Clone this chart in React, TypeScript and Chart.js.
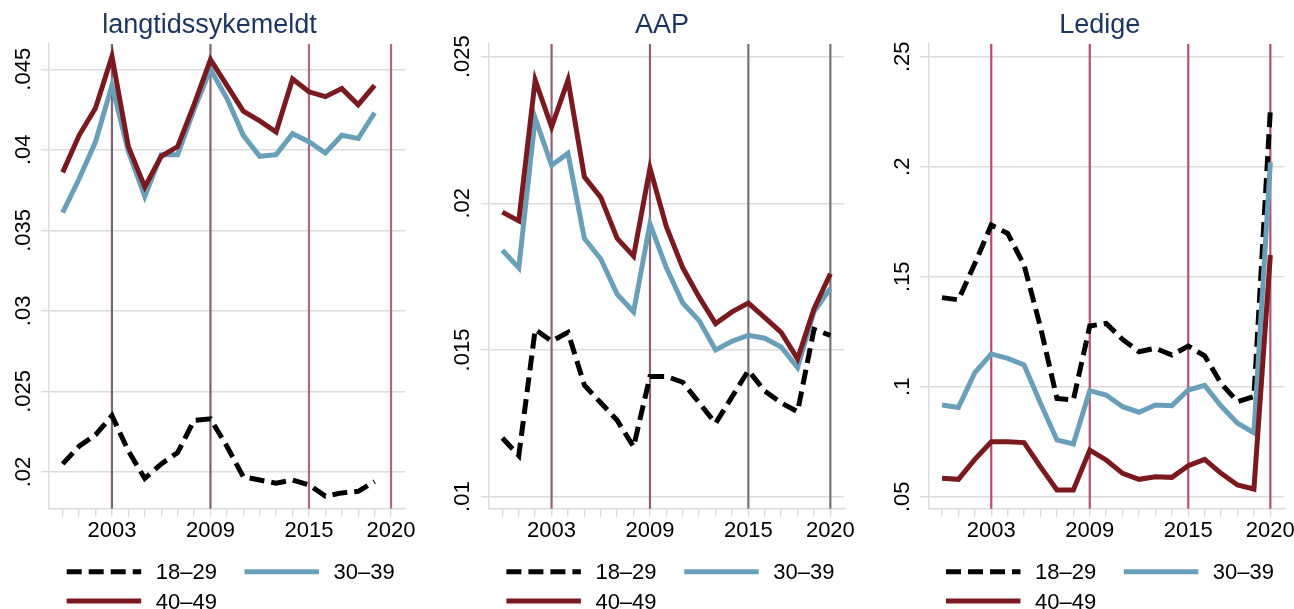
import React, { useEffect, useRef } from 'react';
import { Chart, registerables } from 'chart.js';

Chart.register(...registerables);
Chart.defaults.font.family = "'Liberation Sans', Arial, sans-serif";

// ---------- data ----------
const yearsSick = [2000, 2001, 2002, 2003, 2004, 2005, 2006, 2007, 2008, 2009, 2010, 2011, 2012, 2013, 2014, 2015, 2016, 2017, 2018, 2019];
const yearsAll = [2000, 2001, 2002, 2003, 2004, 2005, 2006, 2007, 2008, 2009, 2010, 2011, 2012, 2013, 2014, 2015, 2016, 2017, 2018, 2019, 2020];
const tickYears = [2000, 2001, 2002, 2003, 2004, 2005, 2006, 2007, 2008, 2009, 2010, 2011, 2012, 2013, 2014, 2015, 2016, 2017, 2018, 2019, 2020];
const labelYears = [2003, 2009, 2015, 2020];
const refYears = [2003, 2009, 2015, 2020];

const seriesNames = ['18–29', '30–39', '40–49'];

const sick18 = [0.0205, 0.0216, 0.0223, 0.0235, 0.0213, 0.0196, 0.0205, 0.0212, 0.0232, 0.0233, 0.0216, 0.0197, 0.0195, 0.0193, 0.0195, 0.0192, 0.0185, 0.0187, 0.0188, 0.0194];
const sick30 = [0.0361, 0.0382, 0.0405, 0.0440, 0.0399, 0.0371, 0.0397, 0.0397, 0.0425, 0.0450, 0.0432, 0.0409, 0.0396, 0.0397, 0.0410, 0.0405, 0.0398, 0.0409, 0.0407, 0.0423];
const sick40 = [0.0386, 0.0409, 0.0426, 0.0458, 0.0402, 0.0377, 0.0396, 0.0402, 0.0428, 0.0456, 0.0440, 0.0424, 0.0418, 0.0411, 0.0444, 0.0436, 0.0433, 0.0438, 0.0428, 0.0440];

const aap18 = [0.0120, 0.0114, 0.0157, 0.0153, 0.0156, 0.0138, 0.0132, 0.0126, 0.0117, 0.0141, 0.0141, 0.0139, 0.0132, 0.0125, 0.0134, 0.0143, 0.0136, 0.0132, 0.0129, 0.0157, 0.0155];
const aap30 = [0.0184, 0.0178, 0.0229, 0.0213, 0.0217, 0.0188, 0.0181, 0.0169, 0.0163, 0.0193, 0.0178, 0.0166, 0.0160, 0.0150, 0.0153, 0.0155, 0.0154, 0.0151, 0.0144, 0.0163, 0.0171];
const aap40 = [0.0197, 0.0194, 0.0242, 0.0226, 0.0242, 0.0209, 0.0202, 0.0188, 0.0182, 0.0212, 0.0192, 0.0178, 0.0168, 0.0159, 0.0163, 0.0166, 0.0161, 0.0156, 0.0147, 0.0164, 0.0176];

const led18 = [0.1405, 0.1395, 0.156, 0.1735, 0.1697, 0.1553, 0.127, 0.0947, 0.094, 0.1276, 0.1288, 0.1215, 0.1159, 0.1175, 0.1144, 0.1185, 0.114, 0.1015, 0.0932, 0.0955, 0.2258];
const led30 = [0.0917, 0.0906, 0.1064, 0.1149, 0.1129, 0.1099, 0.0925, 0.0758, 0.074, 0.0982, 0.0962, 0.0909, 0.0884, 0.0917, 0.0914, 0.0985, 0.1006, 0.0912, 0.0834, 0.0791, 0.202];
const led40 = [0.0584, 0.0579, 0.067, 0.075, 0.075, 0.0746, 0.0636, 0.0531, 0.0531, 0.0712, 0.0667, 0.0606, 0.0579, 0.0591, 0.0588, 0.0641, 0.067, 0.0606, 0.0553, 0.0535, 0.1599];

const sickTicks = [0.02, 0.025, 0.03, 0.035, 0.04, 0.045];
const aapTicks = [0.01, 0.015, 0.02, 0.025];
const ledTicks = [0.05, 0.1, 0.15, 0.2, 0.25];

// ---------- style ----------
const COL18 = '#000000';
const COL30 = '#6a9fba';
const COL40 = '#7a1a1f';
const TITLE_COL = '#1c355e';
const GRID_COL = '#dcdcdc';
const FONT = "'Liberation Sans', Arial, sans-serif";
const TICK_PX = 22;
const H = 609;
const PLOT_TOP = 44;
const PLOT_BOTTOM = 508.7;
const X_MIN = 1999.165;
const X_MAX = 2020.85;
const LW = 5;

type PanelCfg = {
  title: string;
  left: number;
  width: number;
  plotLeft: number;
  plotRight: number;
  titleX: number;
  years: number[];
  s18: number[];
  s30: number[];
  s40: number[];
  yMin: number;
  yMax: number;
  yTicks: number[];
  refColors: string[];
};

const panels: PanelCfg[] = [
  {
    title: 'langtidssykemeldt', left: 0, width: 430, plotLeft: 49, plotRight: 405, titleX: 209.5,
    years: yearsSick, s18: sick18, s30: sick30, s40: sick40,
    yMin: 0.01772, yMax: 0.04657, yTicks: sickTicks,
    refColors: ['#7e6470', '#7e6470', '#b06a7e', '#b06a7e'],
  },
  {
    title: 'AAP', left: 430, width: 430, plotLeft: 58.7, plotRight: 414.3, titleX: 232,
    years: yearsAll, s18: aap18, s30: aap30, s40: aap40,
    yMin: 0.00959, yMax: 0.02543, yTicks: aapTicks,
    refColors: ['#8e6272', '#8e6272', '#76737a', '#76737a'],
  },
  {
    title: 'Ledige', left: 860, width: 434, plotLeft: 68.3, plotRight: 424.3, titleX: 239.7,
    years: yearsAll, s18: led18, s30: led30, s40: led40,
    yMin: 0.04455, yMax: 0.2558, yTicks: ledTicks,
    refColors: ['#c2466a', '#b8506e', '#b8506e', '#b05070'],
  },
];

const fmtTick = (v: number) => String(v).replace(/^0/, '');

const decorPlugin = {
  id: 'panelDecor',
  beforeDatasetsDraw(chart: any, _args: any, opts: any) {
    const { ctx, chartArea } = chart;
    const xs = chart.scales.x;
    refYears.forEach((yr, i) => {
      const px = xs.getPixelForValue(yr);
      ctx.save();
      ctx.strokeStyle = opts.refColors[i];
      ctx.lineWidth = 2.2;
      ctx.beginPath();
      ctx.moveTo(px, chartArea.top);
      ctx.lineTo(px, chartArea.bottom);
      ctx.stroke();
      ctx.restore();
    });
  },
  afterDraw(chart: any, _args: any, opts: any) {
    const { ctx, chartArea } = chart;
    const ys = chart.scales.y;
    ctx.save();
    // title
    ctx.fillStyle = TITLE_COL;
    ctx.font = `27px ${FONT}`;
    ctx.textAlign = 'center';
    ctx.textBaseline = 'alphabetic';
    ctx.fillText(opts.title, opts.titleX, 33);
    // rotated y tick labels
    ctx.fillStyle = '#000';
    ctx.font = `${TICK_PX}px ${FONT}`;
    opts.yTicks.forEach((v: number) => {
      const py = ys.getPixelForValue(v);
      ctx.save();
      ctx.translate(chartArea.left - 19.5, py);
      ctx.rotate(-Math.PI / 2);
      ctx.textAlign = 'center';
      ctx.textBaseline = 'alphabetic';
      ctx.fillText(fmtTick(v), 0, 0);
      ctx.restore();
    });
    // legend
    const items = [
      { name: seriesNames[0], color: COL18, dash: [15, 7], dx: 17.7, ly: 571.7, ty: 578.5 },
      { name: seriesNames[1], color: COL30, dash: [], dx: 195.5, ly: 571.7, ty: 578.5 },
      { name: seriesNames[2], color: COL40, dash: [], dx: 17.7, ly: 601, ty: 608.5 },
    ];
    items.forEach((it) => {
      const x0 = chartArea.left + it.dx;
      ctx.save();
      ctx.strokeStyle = it.color;
      ctx.lineWidth = LW;
      ctx.lineCap = 'butt';
      ctx.setLineDash(it.dash);
      ctx.beginPath();
      ctx.moveTo(x0, it.ly);
      ctx.lineTo(x0 + 74.5, it.ly);
      ctx.stroke();
      ctx.restore();
      ctx.fillStyle = '#000';
      ctx.font = `${TICK_PX}px ${FONT}`;
      ctx.textAlign = 'left';
      ctx.textBaseline = 'alphabetic';
      ctx.fillText(it.name, x0 + 89, it.ty);
    });
    ctx.restore();
  },
};

function Panel({ cfg }: { cfg: PanelCfg }) {
  const ref = useRef<HTMLCanvasElement | null>(null);
  useEffect(() => {
    if (!ref.current) return;
    const mk = (ys: number[]) => cfg.years.map((x, i) => ({ x, y: ys[i] }));
    const chart = new Chart(ref.current, {
      type: 'line',
      data: {
        datasets: [
          { label: seriesNames[0], data: mk(cfg.s18), borderColor: COL18, borderWidth: LW, borderDash: [15, 7], pointRadius: 0, tension: 0, order: 3, fill: false },
          { label: seriesNames[1], data: mk(cfg.s30), borderColor: COL30, borderWidth: LW, pointRadius: 0, tension: 0, order: 2, fill: false },
          { label: seriesNames[2], data: mk(cfg.s40), borderColor: COL40, borderWidth: LW, pointRadius: 0, tension: 0, order: 1, fill: false },
        ],
      },
      options: {
        animation: false,
        responsive: false,
        maintainAspectRatio: false,
        events: [],
        layout: { padding: { left: 0, right: cfg.width - cfg.plotRight, top: PLOT_TOP, bottom: 0 } },
        plugins: {
          legend: { display: false },
          tooltip: { enabled: false },
          title: { display: false },
          panelDecor: { title: cfg.title, titleX: cfg.titleX, yTicks: cfg.yTicks, refColors: cfg.refColors },
        } as any,
        scales: {
          x: {
            type: 'linear',
            min: X_MIN,
            max: X_MAX,
            afterBuildTicks: (s: any) => { s.ticks = tickYears.map((v) => ({ value: v })); },
            afterFit: (s: any) => { s.height = H - PLOT_BOTTOM; s.paddingLeft = 0; s.paddingRight = 0; },
            ticks: {
              autoSkip: false,
              maxRotation: 0,
              minRotation: 0,
              padding: 1,
              color: '#000',
              font: { size: TICK_PX, family: FONT },
              callback: (v: any) => (labelYears.includes(Number(v)) ? String(v) : ''),
            },
            grid: { drawOnChartArea: false, drawTicks: true, tickLength: 8, color: GRID_COL, lineWidth: 1.4 },
            border: { display: true, color: GRID_COL, width: 1.4 },
          },
          y: {
            type: 'linear',
            min: cfg.yMin,
            max: cfg.yMax,
            afterBuildTicks: (s: any) => { s.ticks = cfg.yTicks.map((v) => ({ value: v })); },
            afterFit: (s: any) => { s.width = cfg.plotLeft; s.paddingTop = 0; s.paddingBottom = 0; },
            ticks: { display: false },
            grid: { drawOnChartArea: true, drawTicks: true, tickLength: 8, color: GRID_COL, lineWidth: 1.4 },
            border: { display: true, color: GRID_COL, width: 1.4 },
          },
        },
      } as any,
      plugins: [decorPlugin as any],
    });
    return () => chart.destroy();
  }, [cfg]);
  return (
    <canvas
      ref={ref}
      width={cfg.width}
      height={H}
      style={{ position: 'absolute', left: cfg.left, top: 0, width: cfg.width, height: H }}
    />
  );
}

export default function App() {
  return (
    <div style={{ position: 'absolute', left: 0, top: 0, width: 1294, height: H, background: '#fff', overflow: 'hidden' }}>
      {panels.map((p) => (
        <Panel key={p.title} cfg={p} />
      ))}
    </div>
  );
}
